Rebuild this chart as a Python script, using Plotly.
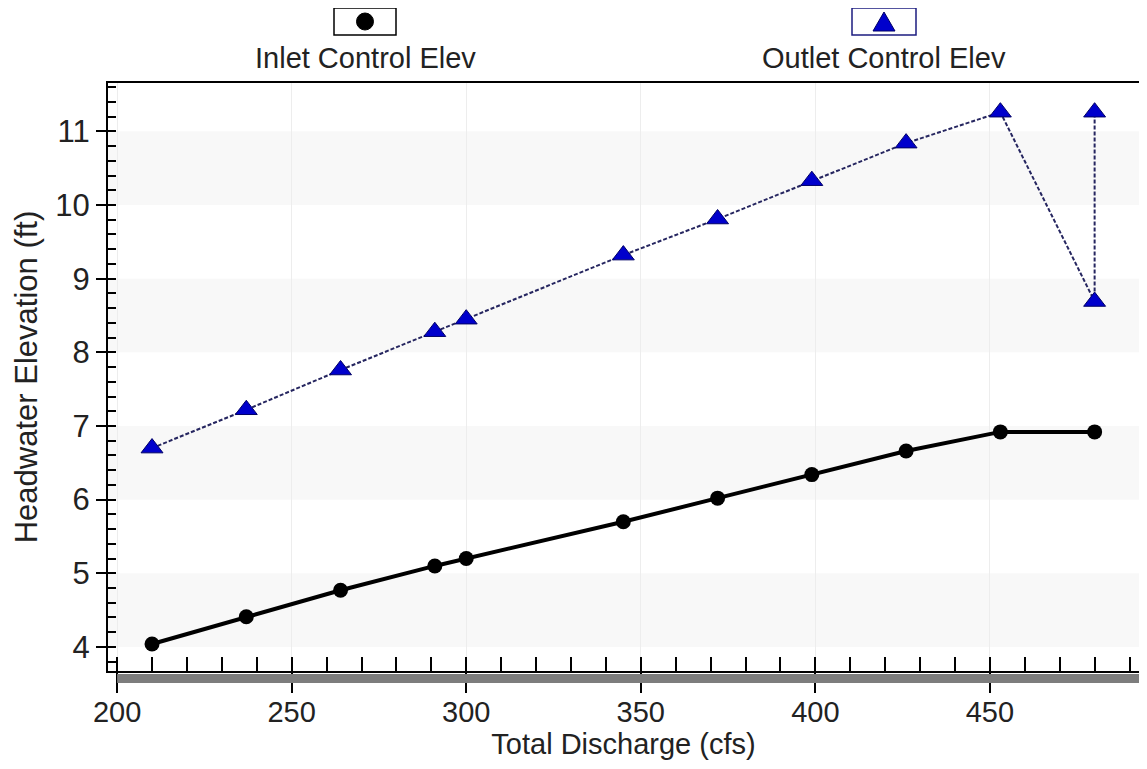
import plotly.graph_objects as go

# data
discharge = [210, 237, 264, 291, 300, 345, 372, 399, 426, 453, 480]
inlet_elev = [4.04, 4.41, 4.77, 5.10, 5.20, 5.70, 6.02, 6.34, 6.66, 6.92, 6.92]

outlet_q = [210, 237, 264, 291, 300, 345, 372, 399, 426, 453, 480, 480]
outlet_elev = [6.70, 7.22, 7.76, 8.28, 8.45, 9.32, 9.81, 10.33, 10.84, 11.26, 8.69, 11.26]

x_ticks = [200, 250, 300, 350, 400, 450]
y_ticks = [4, 5, 6, 7, 8, 9, 10, 11]
band_starts = [4, 6, 8, 10]  # light gray stripes, one unit tall

series_names = ["Inlet Control Elev", "Outlet Control Elev"]

X_RANGE = [197.1, 493.0]
Y_RANGE = [3.66, 11.67]

# the page body has an 8px margin, so the figure is drawn 8px in from the corner
PAGE_OFF = 8
W, H = 1147 - PAGE_OFF, 769 - PAGE_OFF
ML, MR, MT, MB = 107 - PAGE_OFF, 7, 82 - PAGE_OFF, 97
PW, PH = W - ML - MR, H - MT - MB

FONT = "Liberation Sans, Arial, sans-serif"
BLUE = "#0000cc"
NAVY = "#262660"


# page pixel -> paper coordinate helpers (for legend decorations)
def px_x(p):
    return (p - PAGE_OFF - ML) / PW


def px_y(p):
    return (PAGE_OFF + MT + PH - p) / PH


fig = go.Figure()

fig.add_trace(go.Scatter(
    x=discharge, y=inlet_elev, mode="lines+markers", name=series_names[0],
    line=dict(color="black", width=4),
    marker=dict(symbol="circle", size=15, color="black"),
))

fig.add_trace(go.Scatter(
    x=outlet_q, y=outlet_elev, mode="lines+markers", name=series_names[1],
    line=dict(color=NAVY, width=2, dash="4px,2px"),
    marker=dict(symbol="triangle-up", size=19, color=BLUE,
                line=dict(color="#000066", width=1)),
))

shapes = []
for b in band_starts:
    shapes.append(dict(type="rect", xref="paper", yref="y", x0=0, x1=1,
                       y0=b, y1=b + 1, fillcolor="#f8f8f8", line_width=0,
                       layer="below"))

# plot frame
shapes.append(dict(type="rect", xref="paper", yref="paper", x0=0, x1=1,
                   y0=0, y1=1, line=dict(color="black", width=2)))

# gray 3D bar under the plot, starting at the first x tick
x0_bar = (x_ticks[0] - X_RANGE[0]) / (X_RANGE[1] - X_RANGE[0])
shapes.append(dict(type="rect", xref="paper", yref="paper",
                   x0=x0_bar, x1=1 + 5 / PW, y0=-11 / PH, y1=-2 / PH,
                   fillcolor="#7d7d7d", line_width=0))

# legend boxes with their symbols
shapes.append(dict(type="rect", xref="paper", yref="paper",
                   x0=px_x(334), x1=px_x(396), y0=px_y(35), y1=px_y(8),
                   line=dict(color="black", width=1.5)))
shapes.append(dict(type="circle", xref="paper", yref="paper",
                   x0=px_x(356.5), x1=px_x(373.5), y0=px_y(30), y1=px_y(13),
                   fillcolor="black", line=dict(color="black", width=1)))
shapes.append(dict(type="rect", xref="paper", yref="paper",
                   x0=px_x(852), x1=px_x(916), y0=px_y(35), y1=px_y(8),
                   line=dict(color="#1c1c80", width=1.5)))
tri = "M {:.5f},{:.5f} L {:.5f},{:.5f} L {:.5f},{:.5f} Z".format(
    px_x(873), px_y(31), px_x(884), px_y(12), px_x(895), px_y(31))
shapes.append(dict(type="path", xref="paper", yref="paper", path=tri,
                   fillcolor=BLUE, line=dict(color="#000066", width=1)))

annotations = [
    dict(text=series_names[0], x=px_x(365), y=px_y(58), xref="paper",
         yref="paper", showarrow=False, xanchor="center", yanchor="middle",
         font=dict(family=FONT, size=29, color="#222")),
    dict(text=series_names[1], x=px_x(884), y=px_y(58), xref="paper",
         yref="paper", showarrow=False, xanchor="center", yanchor="middle",
         font=dict(family=FONT, size=29, color="#222")),
]

fig.update_layout(
    width=W, height=H,
    margin=dict(l=ML, r=MR, t=MT, b=MB),
    paper_bgcolor="white", plot_bgcolor="white",
    showlegend=False,
    shapes=shapes,
    annotations=annotations,
    font=dict(family=FONT, size=28, color="#222"),
    xaxis=dict(
        range=X_RANGE, tickvals=x_ticks, ticks="outside", ticklen=20,
        tickwidth=1.5, tickcolor="black", showline=False, zeroline=False,
        automargin=False, ticklabelstandoff=-6,
        showgrid=True, gridcolor="#ededed", gridwidth=1,
        minor=dict(dtick=10, tick0=200, ticks="inside", ticklen=15,
                   tickwidth=1.5, tickcolor="black", showgrid=False),
        tickfont=dict(family=FONT, size=29, color="#222"),
        title=dict(text="Total Discharge (cfs)",
                   font=dict(family=FONT, size=29, color="#222"),
                   standoff=4),
    ),
    yaxis=dict(
        range=Y_RANGE, tickvals=y_ticks, ticks="outside", ticklen=10,
        tickwidth=1.5, tickcolor="black", showline=False, zeroline=False,
        automargin=False, showgrid=False,
        minor=dict(dtick=0.2, tick0=4, ticks="inside", ticklen=9,
                   tickwidth=1.5, tickcolor="black", showgrid=False),
        tickfont=dict(family=FONT, size=31, color="#222"),
        title=dict(text="Headwater Elevation (ft)",
                   font=dict(family=FONT, size=31, color="#222"),
                   standoff=8),
    ),
)

fig.write_html("out.html")
